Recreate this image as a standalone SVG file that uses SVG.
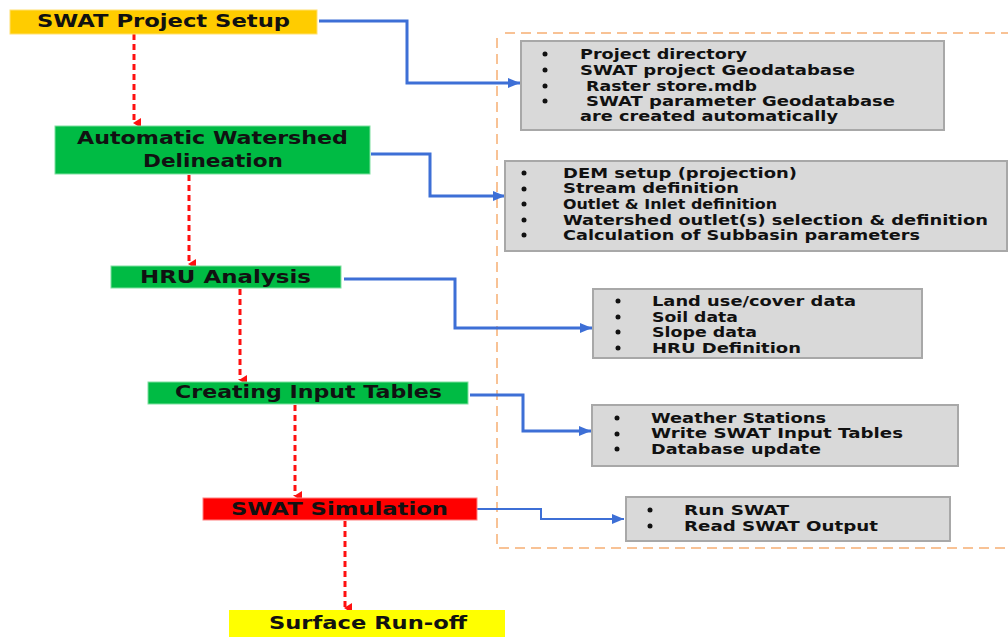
<svg xmlns="http://www.w3.org/2000/svg" width="1008" height="637" viewBox="0 0 1008 637">
<style>
.lbl{font-family:"DejaVu Sans","Liberation Sans",sans-serif;font-weight:bold;font-size:17px;fill:#111}
.bt{font-family:"DejaVu Sans","Liberation Sans",sans-serif;font-weight:bold;font-size:14.5px;fill:#111}
.info{fill:#D9D9D9;stroke:#A8A8A8;stroke-width:2}
.red{fill:none;stroke:#FF1010;stroke-width:3;stroke-dasharray:6 4}
.blue{fill:none;stroke:#3D6FD6;stroke-width:3}
.thin{stroke-width:2}
.dot{fill:#111}
</style>
<defs>
<marker id="ra" markerWidth="10" markerHeight="8" refX="5" refY="7" orient="auto-start-reverse" markerUnits="userSpaceOnUse" viewBox="0 0 10 8">
<path d="M0,0 L10,0 L5,8 z" fill="#FF1010"/>
</marker>
<marker id="ba" markerWidth="12" markerHeight="10" refX="12" refY="5" orient="auto" markerUnits="userSpaceOnUse" viewBox="0 0 12 10">
<path d="M0,0 L12,5 L0,10 z" fill="#3D6FD6"/>
</marker>
</defs>
<rect width="1008" height="637" fill="#fff"/>
<path d="M505,33 L1008,33 M497,38 L497,548 L1008,548" fill="none" stroke="#F8C295" stroke-width="2" stroke-dasharray="10 6"/>
<g id="connectors">
<path class="red" d="M134,34 L134,123" marker-end="url(#ra)"/>
<path class="red" d="M189,175 L189,264" marker-end="url(#ra)"/>
<path class="red" d="M240,289 L240,380" marker-end="url(#ra)"/>
<path class="red" d="M295,405 L295,496" marker-end="url(#ra)"/>
<path class="red" d="M345,521 L345,608" marker-end="url(#ra)"/>
<path class="blue" d="M319,21 L407,21 L407,83 L520,83" marker-end="url(#ba)"/>
<path class="blue" d="M371,154 L430,154 L430,196 L505,196" marker-end="url(#ba)"/>
<path class="blue" d="M344,279 L455,279 L455,328 L592,328" marker-end="url(#ba)"/>
<path class="blue" d="M470,395 L523,395 L523,431 L591,431" marker-end="url(#ba)"/>
<path class="blue thin" d="M477,509 L541,509 L541,519 L624,519" marker-end="url(#ba)"/>
</g>
<g id="setup">
<rect x="10" y="10" width="307" height="24" fill="#FFCC00" stroke="#FFE070"/>
<text class="lbl" x="37" y="27" textLength="253" lengthAdjust="spacingAndGlyphs">SWAT Project Setup</text>
</g>
<g id="watershed">
<rect x="55" y="126" width="315" height="48" fill="#00BB44" stroke="#7FE0A0"/>
<text class="lbl" x="77" y="144" textLength="271" lengthAdjust="spacingAndGlyphs">Automatic Watershed</text>
<text class="lbl" x="143" y="167" textLength="140" lengthAdjust="spacingAndGlyphs">Delineation</text>
</g>
<g id="hru">
<rect x="111" y="266" width="230" height="22" fill="#00BB44" stroke="#7FE0A0"/>
<text class="lbl" x="140" y="283" textLength="171" lengthAdjust="spacingAndGlyphs">HRU Analysis</text>
</g>
<g id="tables">
<rect x="148" y="382" width="320" height="22" fill="#00BB44" stroke="#7FE0A0"/>
<text class="lbl" x="175" y="398" textLength="267" lengthAdjust="spacingAndGlyphs">Creating Input Tables</text>
</g>
<g id="simulation">
<rect x="203" y="498" width="274" height="22" fill="#FF0000" stroke="#FF8080"/>
<text class="lbl" x="231" y="515" textLength="217" lengthAdjust="spacingAndGlyphs">SWAT Simulation</text>
</g>
<g id="runoff">
<rect x="229" y="610" width="276" height="27" fill="#FFFF00"/>
<text class="lbl" x="269" y="629" textLength="198" lengthAdjust="spacingAndGlyphs">Surface Run-off</text>
</g>
<g id="info1">
<rect class="info" x="521" y="41" width="423" height="89"/>
<circle class="dot" cx="545" cy="54" r="2.5"/><circle class="dot" cx="545" cy="70" r="2.5"/><circle class="dot" cx="545" cy="86" r="2.5"/><circle class="dot" cx="545" cy="101" r="2.5"/>
<text class="bt" x="580" y="59" textLength="167" lengthAdjust="spacingAndGlyphs">Project directory</text>
<text class="bt" x="580" y="75" textLength="275" lengthAdjust="spacingAndGlyphs">SWAT project Geodatabase</text>
<text class="bt" x="586" y="91" textLength="171" lengthAdjust="spacingAndGlyphs">Raster store.mdb</text>
<text class="bt" x="586" y="106" textLength="309" lengthAdjust="spacingAndGlyphs">SWAT parameter Geodatabase</text>
<text class="bt" x="580" y="121" textLength="258" lengthAdjust="spacingAndGlyphs">are created automatically</text>
</g>
<g id="info2">
<rect class="info" x="505" y="161" width="502" height="90"/>
<circle class="dot" cx="524" cy="173" r="2.5"/><circle class="dot" cx="524" cy="189" r="2.5"/><circle class="dot" cx="524" cy="204" r="2.5"/><circle class="dot" cx="524" cy="220" r="2.5"/><circle class="dot" cx="524" cy="235" r="2.5"/>
<text class="bt" x="563" y="178" textLength="234" lengthAdjust="spacingAndGlyphs">DEM setup (projection)</text>
<text class="bt" x="563" y="193" textLength="176" lengthAdjust="spacingAndGlyphs">Stream definition</text>
<text class="bt" x="563" y="209" textLength="214" lengthAdjust="spacingAndGlyphs">Outlet &amp; Inlet definition</text>
<text class="bt" x="563" y="225" textLength="425" lengthAdjust="spacingAndGlyphs">Watershed outlet(s) selection &amp; definition</text>
<text class="bt" x="563" y="240" textLength="357" lengthAdjust="spacingAndGlyphs">Calculation of Subbasin parameters</text>
</g>
<g id="info3">
<rect class="info" x="593" y="289" width="329" height="69"/>
<circle class="dot" cx="618" cy="301" r="2.5"/><circle class="dot" cx="618" cy="317" r="2.5"/><circle class="dot" cx="618" cy="332" r="2.5"/><circle class="dot" cx="618" cy="348" r="2.5"/>
<text class="bt" x="652" y="306" textLength="204" lengthAdjust="spacingAndGlyphs">Land use/cover data</text>
<text class="bt" x="652" y="322" textLength="86" lengthAdjust="spacingAndGlyphs">Soil data</text>
<text class="bt" x="652" y="337" textLength="105" lengthAdjust="spacingAndGlyphs">Slope data</text>
<text class="bt" x="652" y="353" textLength="149" lengthAdjust="spacingAndGlyphs">HRU Definition</text>
</g>
<g id="info4">
<rect class="info" x="592" y="405" width="366" height="61"/>
<circle class="dot" cx="617" cy="418" r="2.5"/><circle class="dot" cx="617" cy="434" r="2.5"/><circle class="dot" cx="617" cy="449" r="2.5"/>
<text class="bt" x="651" y="423" textLength="175" lengthAdjust="spacingAndGlyphs">Weather Stations</text>
<text class="bt" x="651" y="438" textLength="252" lengthAdjust="spacingAndGlyphs">Write SWAT Input Tables</text>
<text class="bt" x="651" y="454" textLength="170" lengthAdjust="spacingAndGlyphs">Database update</text>
</g>
<g id="info5">
<rect class="info" x="626" y="497" width="324" height="44"/>
<circle class="dot" cx="650" cy="510" r="2.5"/><circle class="dot" cx="650" cy="526" r="2.5"/>
<text class="bt" x="684" y="515" textLength="105" lengthAdjust="spacingAndGlyphs">Run SWAT</text>
<text class="bt" x="684" y="531" textLength="194" lengthAdjust="spacingAndGlyphs">Read SWAT Output</text>
</g>
</svg>
